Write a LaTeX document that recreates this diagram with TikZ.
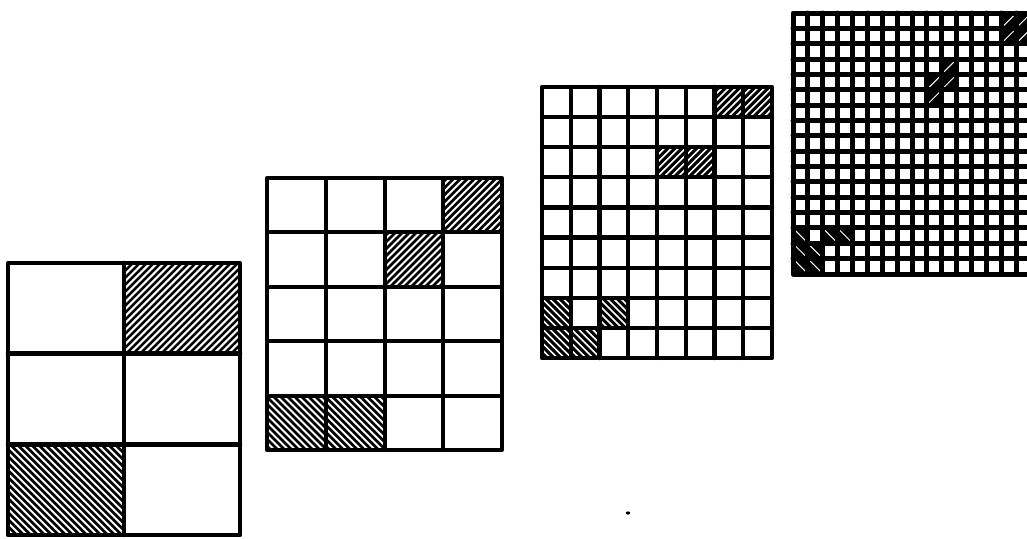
\documentclass[tikz,border=0pt]{standalone}
\newcommand{\hatchcell}[7]{% x0 y0 x1 y1 dir spacing whitewidth
  \begin{scope}
    \clip ({#1},{#2}) rectangle ({#3},{#4});
    \fill[black] ({#1},{#2}) rectangle ({#3},{#4});
    \pgfmathsetmacro{\hcx}{(#1+#3)/2}
    \pgfmathsetmacro{\hcy}{(#2+#4)/2}
    \foreach \i in {-25,...,25}{
      \pgfmathsetmacro{\hk}{\i*#6}
      \draw[hatchpen, line width=#7] ({\hcx+\hk-150},{\hcy+150*(#5)}) -- ({\hcx+\hk+150},{\hcy-150*(#5)});
    }
  \end{scope}}
\newcommand{\drawgrid}[7]{% x0 y0 x1 y1 ncols nrows linewidth
  \draw[gridpen=#7] ({#1},{#2}) rectangle ({#3},{#4});
  \pgfmathtruncatemacro{\gnc}{#5-1}
  \pgfmathtruncatemacro{\gnr}{#6-1}
  \foreach \i in {1,...,\gnc}{\draw[gridpen=#7] ({#1+\i*(#3-#1)/#5},{#2}) -- ({#1+\i*(#3-#1)/#5},{#4});}
  \foreach \j in {1,...,\gnr}{\draw[gridpen=#7] ({#1},{#2+\j*(#4-#2)/#6}) -- ({#3},{#2+\j*(#4-#2)/#6});}
}
% grid-specific cells: col row dir
\newcommand{\cellA}[3]{\hatchcell{8+(#1-1)*116}{263+(#2-1)*90.67}{8+#1*116}{263+#2*90.67}{#3}{7}{2}}
\newcommand{\cellB}[3]{\hatchcell{267+(#1-1)*58.75}{178+(#2-1)*54.4}{267+#1*58.75}{178+#2*54.4}{#3}{7}{1.9}}
\newcommand{\cellC}[3]{\hatchcell{542+(#1-1)*28.75}{87+(#2-1)*30.11}{542+#1*28.75}{87+#2*30.11}{#3}{7}{1.6}}
\newcommand{\cellD}[3]{\hatchcell{793+(#1-1)*14.875}{13+(#2-1)*15.35}{793+#1*14.875}{13+#2*15.35}{#3}{12}{1}}
\tikzset{
  gridpen/.style={draw=black, line width=#1, line cap=round, line join=round},
  hatchpen/.style={draw=white, line cap=round}
}
\begin{document}
\begin{tikzpicture}[x=1pt, y=-1pt]
\useasboundingbox (0,0) rectangle (1027,538);
\clip (0,0) rectangle (1027,538);
% grid 1: 2 x 3
\cellA{2}{1}{1}
\cellA{1}{3}{-1}
\drawgrid{8}{263}{240}{535}{2}{3}{4.6pt}
% grid 2: 4 x 5
\cellB{4}{1}{1}
\cellB{3}{2}{1}
\cellB{1}{5}{-1}
\cellB{2}{5}{-1}
\drawgrid{267}{178}{502}{450}{4}{5}{4pt}
% grid 3: 8 x 9
\cellC{7}{1}{1}
\cellC{8}{1}{1}
\cellC{5}{3}{1}
\cellC{6}{3}{1}
\cellC{1}{8}{-1}
\cellC{3}{8}{-1}
\cellC{1}{9}{-1}
\cellC{2}{9}{-1}
\drawgrid{542}{87}{772}{358}{8}{9}{4.2pt}
% grid 4: 16 x 17
\cellD{15}{1}{1}
\cellD{16}{1}{1}
\cellD{15}{2}{1}
\cellD{16}{2}{1}
\cellD{11}{4}{1}
\cellD{10}{5}{1}
\cellD{11}{5}{1}
\cellD{10}{6}{1}
\cellD{1}{15}{-1}
\cellD{3}{15}{-1}
\cellD{4}{15}{-1}
\cellD{1}{16}{-1}
\cellD{2}{16}{-1}
\cellD{1}{17}{-1}
\cellD{2}{17}{-1}
\drawgrid{793}{13}{1031}{274}{16}{17}{5pt}
% small speck
\fill[black] (628,513) ellipse (2.2 and 1.6);
\end{tikzpicture}
\end{document}
